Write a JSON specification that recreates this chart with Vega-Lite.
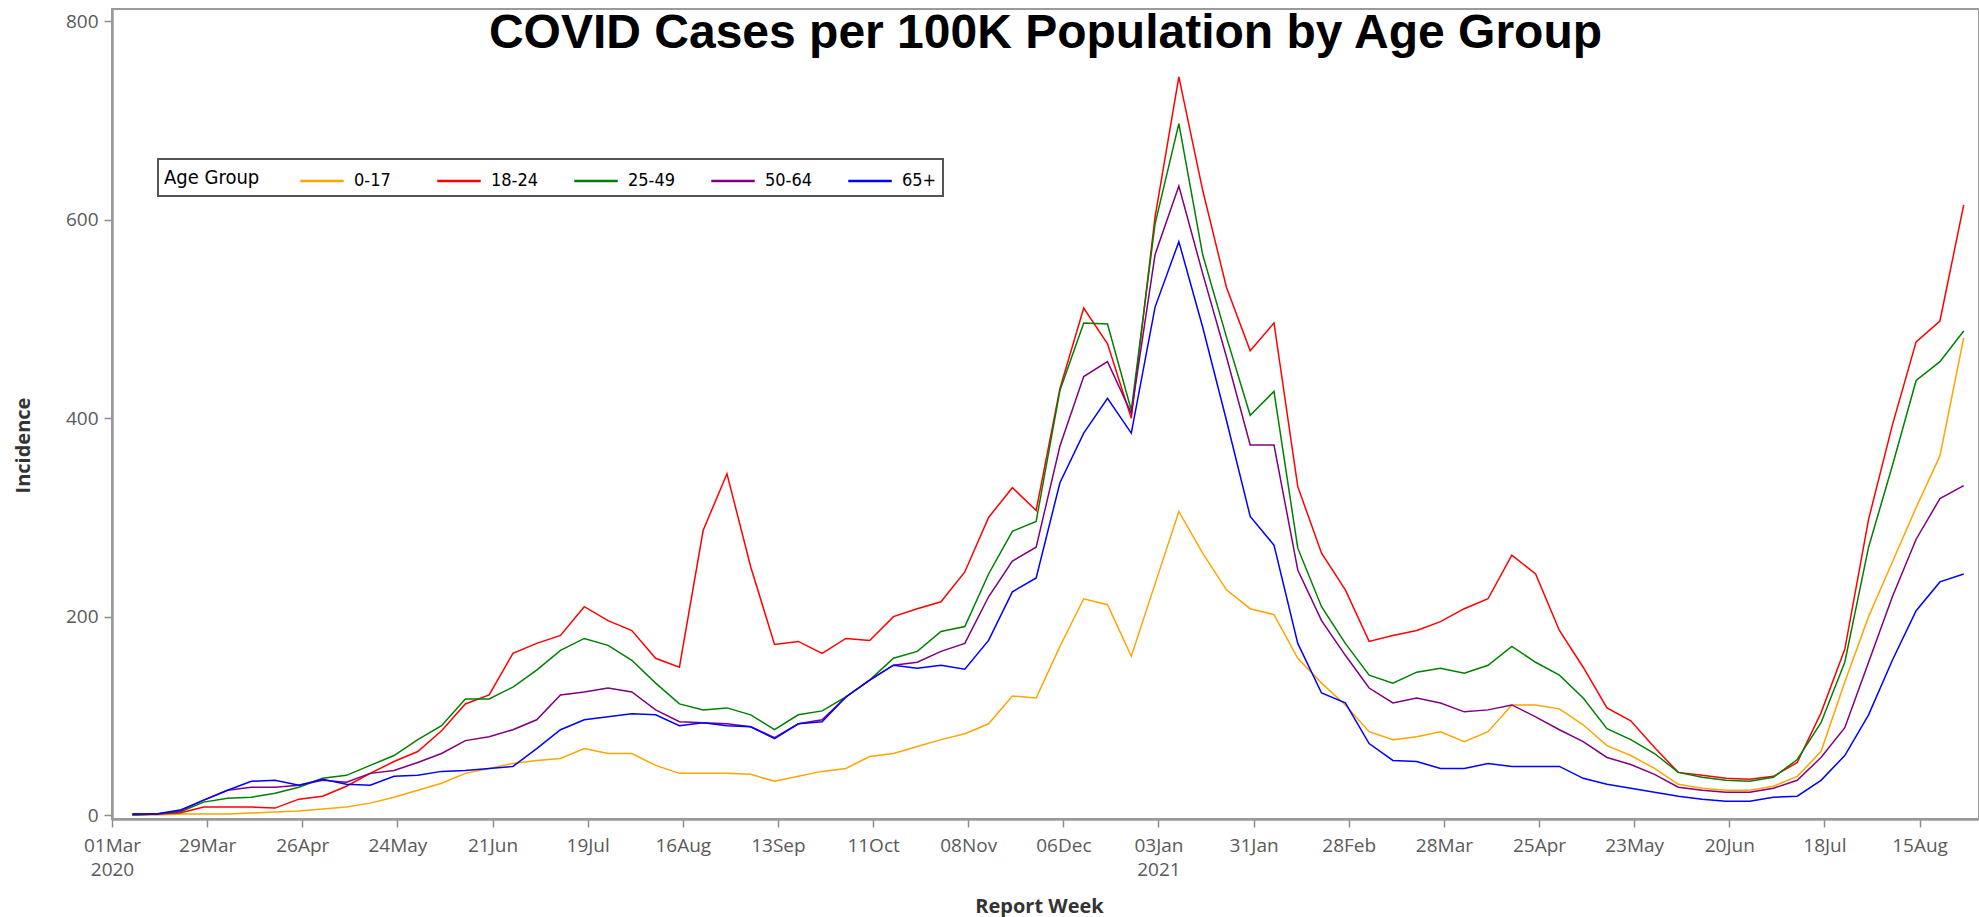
{
  "$schema": "https://vega.github.io/schema/vega-lite/v6.json",
  "autosize": {"type": "none"},
  "padding": {"left": 112, "top": 9, "right": 0, "bottom": 98},
  "width": 1867,
  "height": 810,
  "background": "white",
  "title": {
    "text": "COVID Cases per 100K Population by Age Group",
    "font": "Liberation Sans",
    "fontSize": 48,
    "fontWeight": "bold",
    "color": "#000000",
    "anchor": "middle",
    "frame": "group",
    "orient": "top",
    "baseline": "alphabetic",
    "offset": -48,
    "dy": 39
  },
  "datasets": {
    "wide": [
      {"week": "2020-03-07", "a": 0, "b": 0, "c": 0, "d": 1, "e": 1},
      {"week": "2020-03-14", "a": 0, "b": 1, "c": 1, "d": 1, "e": 1},
      {"week": "2020-03-21", "a": 1, "b": 2, "c": 3, "d": 4, "e": 5},
      {"week": "2020-03-28", "a": 1, "b": 8, "c": 13, "d": 15, "e": 15},
      {"week": "2020-04-04", "a": 1, "b": 8, "c": 17, "d": 25, "e": 25},
      {"week": "2020-04-11", "a": 2, "b": 8, "c": 18, "d": 28, "e": 34},
      {"week": "2020-04-18", "a": 3, "b": 7, "c": 22, "d": 28, "e": 35},
      {"week": "2020-04-25", "a": 4, "b": 16, "c": 28, "d": 30, "e": 30},
      {"week": "2020-05-02", "a": 6, "b": 19, "c": 37, "d": 35, "e": 36},
      {"week": "2020-05-09", "a": 8, "b": 29, "c": 40, "d": 33, "e": 31},
      {"week": "2020-05-16", "a": 12, "b": 42, "c": 50, "d": 42, "e": 30},
      {"week": "2020-05-23", "a": 18, "b": 54, "c": 60, "d": 45, "e": 39},
      {"week": "2020-05-30", "a": 25, "b": 64, "c": 76, "d": 53, "e": 40},
      {"week": "2020-06-06", "a": 32, "b": 85, "c": 90, "d": 62, "e": 44},
      {"week": "2020-06-13", "a": 42, "b": 112, "c": 117, "d": 75, "e": 45},
      {"week": "2020-06-20", "a": 47, "b": 121, "c": 117, "d": 79, "e": 47},
      {"week": "2020-06-27", "a": 52, "b": 163, "c": 129, "d": 86, "e": 49},
      {"week": "2020-07-04", "a": 55, "b": 173, "c": 146, "d": 96, "e": 67},
      {"week": "2020-07-11", "a": 57, "b": 181, "c": 166, "d": 121, "e": 86},
      {"week": "2020-07-18", "a": 67, "b": 210, "c": 178, "d": 124, "e": 96},
      {"week": "2020-07-25", "a": 62, "b": 196, "c": 171, "d": 128, "e": 99},
      {"week": "2020-08-01", "a": 62, "b": 186, "c": 156, "d": 124, "e": 102},
      {"week": "2020-08-08", "a": 50, "b": 158, "c": 133, "d": 106, "e": 101},
      {"week": "2020-08-15", "a": 42, "b": 149, "c": 112, "d": 94, "e": 90},
      {"week": "2020-08-22", "a": 42, "b": 287, "c": 106, "d": 93, "e": 93},
      {"week": "2020-08-29", "a": 42, "b": 344, "c": 108, "d": 92, "e": 90},
      {"week": "2020-09-05", "a": 41, "b": 250, "c": 101, "d": 89, "e": 89},
      {"week": "2020-09-12", "a": 34, "b": 172, "c": 86, "d": 78, "e": 77},
      {"week": "2020-09-19", "a": 39, "b": 175, "c": 101, "d": 92, "e": 92},
      {"week": "2020-09-26", "a": 44, "b": 163, "c": 105, "d": 96, "e": 94},
      {"week": "2020-10-03", "a": 47, "b": 178, "c": 119, "d": 119, "e": 119},
      {"week": "2020-10-10", "a": 59, "b": 176, "c": 136, "d": 136, "e": 136},
      {"week": "2020-10-17", "a": 62, "b": 200, "c": 158, "d": 151, "e": 151},
      {"week": "2020-10-24", "a": 69, "b": 208, "c": 165, "d": 154, "e": 148},
      {"week": "2020-10-31", "a": 76, "b": 215, "c": 185, "d": 165, "e": 151},
      {"week": "2020-11-07", "a": 82, "b": 245, "c": 190, "d": 173, "e": 147},
      {"week": "2020-11-14", "a": 92, "b": 300, "c": 243, "d": 220, "e": 176},
      {"week": "2020-11-21", "a": 120, "b": 330, "c": 286, "d": 256, "e": 225},
      {"week": "2020-11-28", "a": 118, "b": 307, "c": 296, "d": 270, "e": 239},
      {"week": "2020-12-05", "a": 170, "b": 430, "c": 428, "d": 372, "e": 335},
      {"week": "2020-12-12", "a": 218, "b": 511, "c": 496, "d": 442, "e": 385},
      {"week": "2020-12-19", "a": 212, "b": 475, "c": 495, "d": 457, "e": 420},
      {"week": "2020-12-26", "a": 160, "b": 400, "c": 408, "d": 405, "e": 385},
      {"week": "2021-01-02", "a": 233, "b": 603, "c": 596, "d": 565, "e": 512},
      {"week": "2021-01-09", "a": 306, "b": 744, "c": 697, "d": 634, "e": 578},
      {"week": "2021-01-16", "a": 264, "b": 630, "c": 565, "d": 546, "e": 492},
      {"week": "2021-01-23", "a": 227, "b": 532, "c": 482, "d": 462, "e": 398},
      {"week": "2021-01-30", "a": 208, "b": 468, "c": 403, "d": 373, "e": 301},
      {"week": "2021-02-06", "a": 202, "b": 496, "c": 427, "d": 373, "e": 272},
      {"week": "2021-02-13", "a": 158, "b": 331, "c": 269, "d": 247, "e": 173},
      {"week": "2021-02-20", "a": 133, "b": 264, "c": 210, "d": 196, "e": 123},
      {"week": "2021-02-27", "a": 111, "b": 227, "c": 173, "d": 161, "e": 113},
      {"week": "2021-03-06", "a": 84, "b": 175, "c": 141, "d": 128, "e": 72},
      {"week": "2021-03-13", "a": 76, "b": 181, "c": 133, "d": 113, "e": 55},
      {"week": "2021-03-20", "a": 79, "b": 186, "c": 144, "d": 118, "e": 54},
      {"week": "2021-03-27", "a": 84, "b": 195, "c": 148, "d": 113, "e": 47},
      {"week": "2021-04-03", "a": 74, "b": 208, "c": 143, "d": 104, "e": 47},
      {"week": "2021-04-10", "a": 84, "b": 218, "c": 151, "d": 106, "e": 52},
      {"week": "2021-04-17", "a": 111, "b": 262, "c": 170, "d": 111, "e": 49},
      {"week": "2021-04-24", "a": 111, "b": 243, "c": 154, "d": 99, "e": 49},
      {"week": "2021-05-01", "a": 107, "b": 186, "c": 141, "d": 86, "e": 49},
      {"week": "2021-05-08", "a": 91, "b": 149, "c": 118, "d": 74, "e": 37},
      {"week": "2021-05-15", "a": 70, "b": 108, "c": 87, "d": 58, "e": 31},
      {"week": "2021-05-22", "a": 60, "b": 95, "c": 76, "d": 51, "e": 27},
      {"week": "2021-05-29", "a": 47, "b": 68, "c": 62, "d": 41, "e": 23},
      {"week": "2021-06-05", "a": 31, "b": 43, "c": 43, "d": 28, "e": 19},
      {"week": "2021-06-12", "a": 27, "b": 40, "c": 38, "d": 25, "e": 16},
      {"week": "2021-06-19", "a": 25, "b": 37, "c": 35, "d": 23, "e": 14},
      {"week": "2021-06-26", "a": 25, "b": 36, "c": 34, "d": 23, "e": 14},
      {"week": "2021-07-03", "a": 29, "b": 39, "c": 38, "d": 27, "e": 18},
      {"week": "2021-07-10", "a": 39, "b": 53, "c": 56, "d": 35, "e": 19},
      {"week": "2021-07-17", "a": 64, "b": 103, "c": 93, "d": 58, "e": 35},
      {"week": "2021-07-24", "a": 134, "b": 167, "c": 154, "d": 88, "e": 60},
      {"week": "2021-07-31", "a": 200, "b": 298, "c": 270, "d": 154, "e": 101},
      {"week": "2021-08-07", "a": 255, "b": 393, "c": 352, "d": 220, "e": 156},
      {"week": "2021-08-14", "a": 310, "b": 477, "c": 438, "d": 278, "e": 206},
      {"week": "2021-08-21", "a": 362, "b": 498, "c": 457, "d": 319, "e": 235},
      {"week": "2021-08-28", "a": 481, "b": 615, "c": 488, "d": 332, "e": 243}
    ],
    "groups": [
      {"key": "a", "group": "0-17"},
      {"key": "b", "group": "18-24"},
      {"key": "c", "group": "25-49"},
      {"key": "d", "group": "50-64"},
      {"key": "e", "group": "65+"}
    ]
  },
  "data": {"name": "wide"},
  "transform": [
    {"fold": ["a", "b", "c", "d", "e"], "as": ["key", "incidence"]},
    {"lookup": "key", "from": {"data": {"name": "groups"}, "key": "key", "fields": ["group"]}}
  ],
  "mark": {"type": "line", "strokeWidth": 1.5, "interpolate": "linear"},
  "encoding": {
    "x": {
      "field": "week",
      "type": "temporal",
      "scale": {
        "type": "utc",
        "domain": [
          {"year": 2020, "month": 3, "date": 1, "utc": true},
          {"year": 2021, "month": 9, "date": 1, "hours": 12, "utc": true}
        ],
        "nice": false
      },
      "axis": {
        "title": "Report Week",
        "titleFont": "Open Sans",
        "titleFontSize": 20,
        "titleFontWeight": "bold",
        "titleColor": "#333333",
        "titleX": 927,
        "titleY": 93,
        "titleAlign": "center",
        "titleBaseline": "alphabetic",
        "values": [
          {"year": 2020, "month": 3, "date": 1, "utc": true},
          {"year": 2020, "month": 3, "date": 29, "utc": true},
          {"year": 2020, "month": 4, "date": 26, "utc": true},
          {"year": 2020, "month": 5, "date": 24, "utc": true},
          {"year": 2020, "month": 6, "date": 21, "utc": true},
          {"year": 2020, "month": 7, "date": 19, "utc": true},
          {"year": 2020, "month": 8, "date": 16, "utc": true},
          {"year": 2020, "month": 9, "date": 13, "utc": true},
          {"year": 2020, "month": 10, "date": 11, "utc": true},
          {"year": 2020, "month": 11, "date": 8, "utc": true},
          {"year": 2020, "month": 12, "date": 6, "utc": true},
          {"year": 2021, "month": 1, "date": 3, "utc": true},
          {"year": 2021, "month": 1, "date": 31, "utc": true},
          {"year": 2021, "month": 2, "date": 28, "utc": true},
          {"year": 2021, "month": 3, "date": 28, "utc": true},
          {"year": 2021, "month": 4, "date": 25, "utc": true},
          {"year": 2021, "month": 5, "date": 23, "utc": true},
          {"year": 2021, "month": 6, "date": 20, "utc": true},
          {"year": 2021, "month": 7, "date": 18, "utc": true},
          {"year": 2021, "month": 8, "date": 15, "utc": true}
        ],
        "labelExpr": "[utcFormat(datum.value, '%d%b'), (utcFormat(datum.value, '%Y-%m-%d') == '2020-03-01' || utcFormat(datum.value, '%Y-%m-%d') == '2021-01-03') ? utcFormat(datum.value, '%Y') : '']",
        "labelFont": "Open Sans",
        "labelFontSize": 19,
        "labelColor": "#5a5a5a",
        "labelLineHeight": 24,
        "labelBaseline": "top",
        "labelPadding": 9,
        "labelFlush": false,
        "labelOverlap": false,
        "tickSize": 8,
        "tickColor": "#8c8c8c",
        "tickWidth": 1.5,
        "domainColor": "#9a9a9a",
        "domainWidth": 2.5,
        "grid": false
      }
    },
    "y": {
      "field": "incidence",
      "type": "quantitative",
      "scale": {"domain": [-4, 812.5], "nice": false, "zero": false},
      "axis": {
        "title": "Incidence",
        "titleFont": "Open Sans",
        "titleFontSize": 20,
        "titleFontWeight": "bold",
        "titleColor": "#333333",
        "titleAngle": -90,
        "titleX": -89,
        "titleY": 436,
        "titleAlign": "center",
        "titleBaseline": "middle",
        "values": [0, 200, 400, 600, 800],
        "labelFont": "Open Sans",
        "labelFontSize": 19,
        "labelColor": "#5a5a5a",
        "labelPadding": 6,
        "tickSize": 8,
        "tickColor": "#8c8c8c",
        "tickWidth": 1.5,
        "domainColor": "#9a9a9a",
        "domainWidth": 2.5,
        "grid": false
      }
    },
    "color": {
      "field": "group",
      "type": "nominal",
      "scale": {
        "domain": ["0-17", "18-24", "25-49", "50-64", "65+"],
        "range": ["#FFA500", "#FF0000", "#008000", "#800080", "#0000FF"]
      },
      "legend": {
        "title": "Age Group",
        "orient": "none",
        "legendX": 46,
        "legendY": 150,
        "direction": "horizontal",
        "titleOrient": "left",
        "titleAnchor": "middle",
        "titleFont": "DejaVu Sans Condensed, sans-serif",
        "titleFontSize": 20,
        "titleFontWeight": "normal",
        "titleColor": "#000000",
        "titlePadding": 46,
        "titleBaseline": "middle",
        "labelFont": "DejaVu Sans Condensed, sans-serif",
        "labelFontSize": 18,
        "labelColor": "#000000",
        "labelOffset": 16,
        "symbolType": "M-1.5,0H1.5",
        "symbolSize": 841,
        "symbolStrokeWidth": 2.5,
        "symbolFillColor": "transparent",
        "gridAlign": "all",
        "columnPadding": 30,
        "padding": 6,
        "strokeColor": "#555555",
        "fillColor": "white",
        "encode": {
          "legend": {"update": {"strokeWidth": {"value": 2}}}
        }
      }
    }
  },
  "config": {
    "view": {"stroke": "#9a9a9a", "strokeWidth": 2}
  }
}
